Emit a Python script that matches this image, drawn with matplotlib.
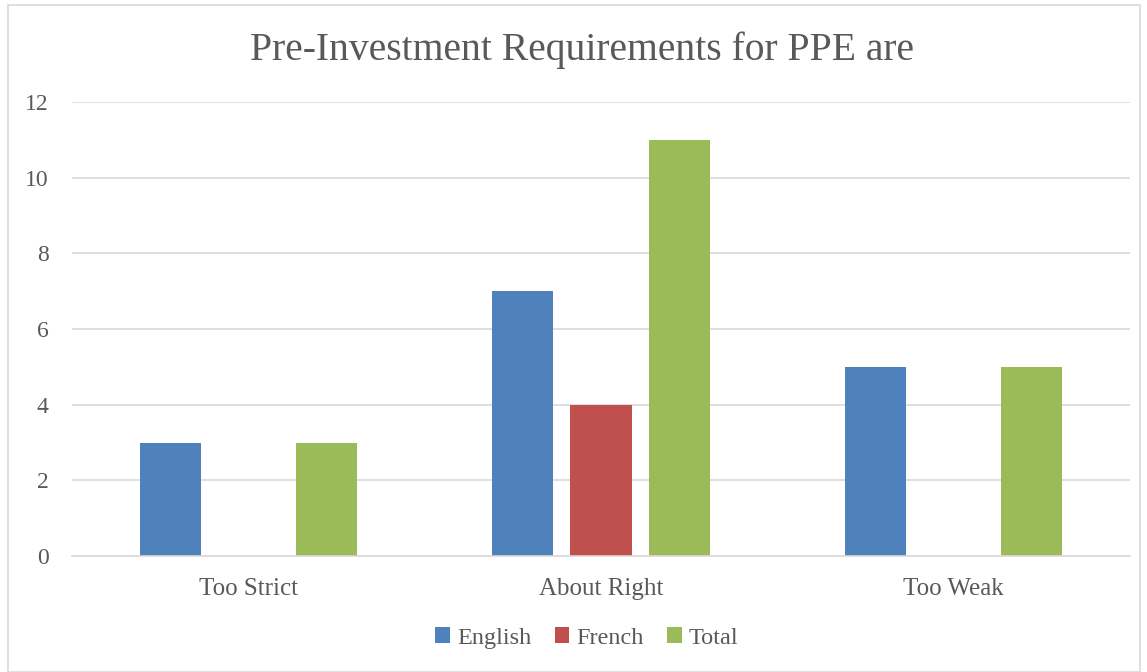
import matplotlib
matplotlib.use("Agg")
import matplotlib.pyplot as plt
from matplotlib.patches import Rectangle
import numpy as np

categories = ["Too Strict", "About Right", "Too Weak"]
english = [3, 7, 5]
french = [0, 4, 0]
total = [3, 11, 5]
series_names = ["English", "French", "Total"]
colors = ["#4F81BD", "#C0504D", "#9BBB59"]
yticks = [0, 2, 4, 6, 8, 10, 12]

plt.rcParams['font.family'] = ['Liberation Serif', 'DejaVu Serif']
txt = "#595959"

fig = plt.figure(figsize=(11.47, 6.72), dpi=100)
ax = fig.add_axes([72/1147, 1-556/672, (1130-72)/1147, (556-102)/672])

x = np.arange(len(categories))
w = 0.173
off = 0.222
for i, (vals, name, c) in enumerate(zip([english, french, total], series_names, colors)):
    ax.bar(x + (i-1)*off, vals, width=w, color=c, label=name, zorder=3)

ax.set_xlim(-0.5, 2.5)
ax.set_ylim(0, 12)
ax.set_yticks(yticks)
ax.set_xticks(x)
ax.set_xticklabels(categories)
ax.yaxis.grid(True, color="#D9D9D9", linewidth=1.2, zorder=0)
for s in ["top", "right", "left"]:
    ax.spines[s].set_visible(False)
ax.spines["bottom"].set_color("#D9D9D9")
ax.spines["bottom"].set_linewidth(1.2)
ax.spines["bottom"].set_zorder(4)
ax.tick_params(axis="x", length=0, labelsize=18, colors=txt, pad=16)
ax.tick_params(axis="y", length=0, labelsize=17, colors=txt, pad=17)

fig.text(582/1147, 1-50/672, "Pre-Investment Requirements for PPE are", ha="center", va="center",
         fontsize=28.5, color=txt)

leg = fig.legend(loc="center", bbox_to_anchor=(587/1147, 1-638/672), ncol=3, frameon=False,
                 fontsize=17.5, handlelength=0.6, handleheight=0.6, handletextpad=0.3, columnspacing=0.95)
for t in leg.get_texts():
    t.set_color(txt)

fig.patches.append(Rectangle((8/1147, 0), (1140-8)/1147, 1-5/672, transform=fig.transFigure,
                             fill=False, edgecolor="#D9D9D9", linewidth=1.2))

fig.savefig("out.png", dpi=100)
